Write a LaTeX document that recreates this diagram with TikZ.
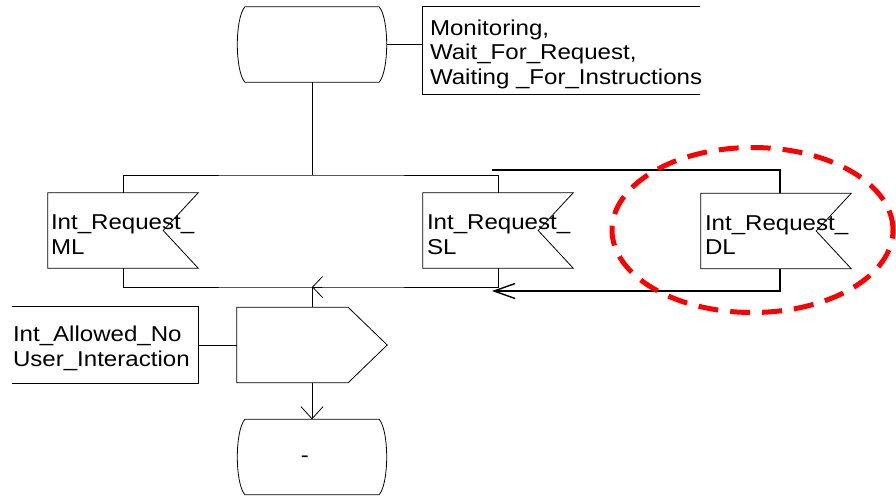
\documentclass[tikz,border=0pt]{standalone}
\usepackage{fontspec}
\setmainfont{Liberation Sans}[FakeStretch=1.12]
\usetikzlibrary{arrows.meta,calc,shapes.geometric}
\newcommand\sdlstate[1]{%
  \draw[ln] ([xshift=8pt]#1.north west) -- ([xshift=-8pt]#1.north east)
    .. controls ([xshift=2pt,yshift=-12pt]#1.north east) and ([xshift=2pt,yshift=12pt]#1.south east) .. ([xshift=-8pt]#1.south east)
    -- ([xshift=8pt]#1.south west)
    .. controls ([xshift=-2pt,yshift=12pt]#1.south west) and ([xshift=-2pt,yshift=-12pt]#1.north west) .. cycle;}
\newcommand\sdlinput[1]{%
  \draw[ln] (#1.north west) -- (#1.north east) -- ([xshift=-35pt]#1.east) -- (#1.south east) -- (#1.south west) -- cycle;}
\begin{document}
\begin{tikzpicture}[x=1pt,y=-1pt,
  sym/.style={minimum width=150pt,minimum height=75pt,inner sep=0pt,draw=none},
  cmt/.style={inner sep=0pt,draw=none},
  txt/.style={font=\fontsize{21.5pt}{24.5pt}\selectfont,align=left,inner sep=0pt,anchor=west},
  ln/.style={line width=0.8pt,black},
  loopln/.style={line width=1.4pt,black},
  hilite/.style={ellipse,draw=red,line width=5pt,dash pattern=on 20pt off 12pt,inner sep=0pt,minimum width=281pt,minimum height=165pt}
]
\useasboundingbox (0,0) rectangle (896,499);

% top state and comment
\node[sym] (st1) at (312,44.5) {};
\sdlstate{st1}
\node[cmt,minimum width=277pt,minimum height=87pt] (c1) at (561.5,50.5) {};
\draw[ln] (c1.north east) -- (c1.north west) -- (c1.south west) -- (c1.south east);
\node[txt] (c1t) at ([xshift=7pt,yshift=-3.5pt]c1.west) {Monitoring,\\Wait\_For\_Request,\\Waiting \_For\_Instructions};
\draw[ln] (st1.east) -- (st1.east -| c1.west);

% inputs
\node[sym] (ml) at (123,230.5) {};
\sdlinput{ml}
\node[txt] (mlt) at ([xshift=3pt,yshift=-4pt]ml.west) {Int\_Request\_\\ML};
\node[sym] (sl) at (498,230.5) {};
\sdlinput{sl}
\node[txt] (slt) at ([xshift=4pt,yshift=-4pt]sl.west) {Int\_Request\_\\SL};
\node[sym] (dl) at (776,231) {};
\sdlinput{dl}
\node[txt] (dlt) at ([xshift=4pt,yshift=-4pt]dl.west) {Int\_Request\_\\DL};

% junctions
\coordinate (j1) at (312,175);
\coordinate (j2) at (312,287);
\draw[ln] (st1.south) -- (j1);
\draw[ln] (ml.north) |- (j1) -| (sl.north);
\draw[ln] (ml.south) |- (j2) -| (sl.south);
\draw[ln,-{Straight Barb[length=10pt,width=21pt]}] ([xshift=10pt]j2) -- (j2);

% loop from DL
\coordinate (lpa) at (492,170);
\coordinate (lpb) at (492,291);
\draw[loopln] (lpa) -| ([xshift=4pt]dl.north);
\draw[loopln,-{Straight Barb[length=21pt,width=15pt]}] ([xshift=4pt]dl.south) |- (lpb);

% output
\node[sym] (out) at (312,345) {};
\draw[ln] (out.north west) -- ([xshift=-39pt]out.north east) -- (out.east) -- ([xshift=-39pt]out.south east) -- (out.south west) -- cycle;
\draw[ln] (j2) -- (out.north);
\node[cmt,minimum width=186pt,minimum height=76pt] (c2) at (105,345) {};
\draw[ln] (c2.north west) -- (c2.north east) -- (c2.south east) -- (c2.south west);
\node[txt] (c2t) at ([xshift=1pt,yshift=-3.5pt]c2.west) {Int\_Allowed\_No\\User\_Interaction};
\draw[ln] (c2.east) -- (out.west);

% final state
\node[sym] (st2) at (312,457) {};
\sdlstate{st2}
\node[txt,anchor=center] (st2t) at ([xshift=-7pt,yshift=-2pt]st2.center) {-};
\draw[ln,-{Straight Barb[length=12pt,width=22pt]}] (out.south) -- (st2.north);

% highlight
\node[hilite] (hl) at (752.5,230) {};
\end{tikzpicture}
\end{document}
